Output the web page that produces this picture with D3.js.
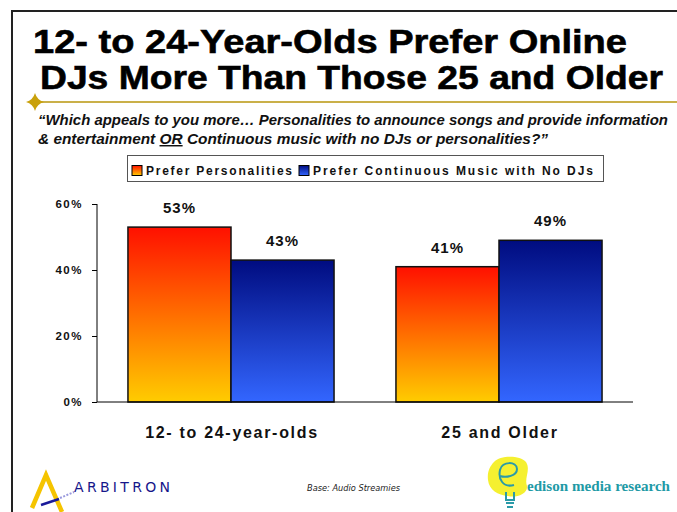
<!DOCTYPE html>
<html>
<head>
<meta charset="utf-8">
<script src="https://cdn.jsdelivr.net/npm/d3@7"></script>
<style>
  html, body { margin: 0; padding: 0; background: #fff; }
  svg { display: block; }
</style>
</head>
<body>
<script>
// Survey results: share preferring DJ personalities vs. continuous music
const categories = ["12- to 24-year-olds", "25 and Older"];
const seriesNames = ["Prefer Personalities", "Prefer Continuous Music with No DJs"];
const preferPersonalities = [53, 41];
const preferContinuous = [43, 49];
const yTicks = [0, 20, 40, 60];
const titleLines = ["12- to 24-Year-Olds Prefer Online", "DJs More Than Those 25 and Older"];

const W = 677, H = 512;
const FONT = "Liberation Sans, Arial, Helvetica, sans-serif";
const svg = d3.select("body").append("svg").attr("width", W).attr("height", H);
const defs = svg.append("defs");

// vertical gradients for the two series
const gradients = [
  { id: "gOrange", top: "#ff1000", bottom: "#ffcc00" },
  { id: "gBlue", top: "#000c80", bottom: "#3366ff" }
];
gradients.forEach(g => {
  const lg = defs.append("linearGradient").attr("id", g.id)
    .attr("x1", 0).attr("y1", 0).attr("x2", 0).attr("y2", 1);
  lg.append("stop").attr("offset", "0%").attr("stop-color", g.top);
  lg.append("stop").attr("offset", "100%").attr("stop-color", g.bottom);
});
const fills = ["url(#gOrange)", "url(#gBlue)"];

// slide frame
svg.append("path")
  .attr("d", `M12,${H} L12,11 L${W},11`)
  .attr("fill", "none").attr("stroke", "#222").attr("stroke-width", 2);

// title
const titleSpec = [
  { x: 33, y: 53, len: 594 },
  { x: 40, y: 89, len: 623 }
];
titleLines.forEach((t, i) => {
  svg.append("text")
    .attr("x", titleSpec[i].x).attr("y", titleSpec[i].y)
    .attr("textLength", titleSpec[i].len).attr("lengthAdjust", "spacingAndGlyphs")
    .attr("font-family", FONT).attr("font-weight", "bold").attr("font-size", 34)
    .attr("stroke", "#000").attr("stroke-width", 0.6)
    .attr("fill", "#000").text(t);
});

// gold rule with star
svg.append("line").attr("x1", 35).attr("x2", W).attr("y1", 102).attr("y2", 102)
  .attr("stroke", "#b8960c").attr("stroke-width", 1.5);
const sx = 35, sy = 102, r = 9, q = 2;
svg.append("path")
  .attr("d", `M${sx},${sy - r} Q${sx + q},${sy - q} ${sx + r},${sy} Q${sx + q},${sy + q} ${sx},${sy + r} Q${sx - q},${sy + q} ${sx - r},${sy} Q${sx - q},${sy - q} ${sx},${sy - r}Z`)
  .attr("fill", "#c9a10c");

// question
const qStyle = s => s.attr("font-family", FONT).attr("font-weight", "bold")
  .attr("font-style", "italic").attr("font-size", 14.5).attr("fill", "#111");
svg.append("text").call(qStyle).attr("x", 38).attr("y", 125)
  .attr("textLength", 630).attr("lengthAdjust", "spacingAndGlyphs")
  .text("\u201CWhich appeals to you more\u2026 Personalities to announce songs and provide information");
const q2 = svg.append("text").call(qStyle).attr("x", 38).attr("y", 144)
  .attr("textLength", 510).attr("lengthAdjust", "spacingAndGlyphs");
q2.append("tspan").text("& entertainment ");
q2.append("tspan").attr("text-decoration", "underline").text("OR");
q2.append("tspan").text(" Continuous music with no DJs or personalities?\u201D");

// legend
const legend = svg.append("g");
legend.append("rect").attr("x", 127.5).attr("y", 155.5).attr("width", 476).attr("height", 26)
  .attr("fill", "#fff").attr("stroke", "#555").attr("stroke-width", 1);
const legendItems = [
  { x: 132, name: seriesNames[0], fill: fills[0], len: 146 },
  { x: 299, name: seriesNames[1], fill: fills[1], len: 280 }
];
legendItems.forEach(it => {
  legend.append("rect").attr("x", it.x).attr("y", 165.5).attr("width", 10).attr("height", 10)
    .attr("fill", it.fill).attr("stroke", "#000").attr("stroke-width", 1);
  legend.append("text").attr("x", it.x + 14).attr("y", 175)
    .attr("textLength", it.len).attr("lengthAdjust", "spacing")
    .attr("font-family", FONT)
    .attr("font-weight", "bold").attr("font-size", 12)
    .attr("fill", "#111").text(it.name);
});

// chart scales
const plot = { left: 97, right: 633, top: 204, bottom: 402 };
const y = d3.scaleLinear().domain([0, 60]).range([plot.bottom, plot.top]);
const x0 = d3.scaleBand().domain(categories).range([plot.left, plot.right])
  .paddingInner(0.231).paddingOuter(0.1155);
const x1 = d3.scaleBand().domain(seriesNames).range([0, x0.bandwidth()]).padding(0);

const values = [preferPersonalities, preferContinuous];
const rows = [];
categories.forEach((c, ci) => {
  seriesNames.forEach((s, si) => rows.push({ cat: c, series: s, si, value: values[si][ci] }));
});

// y axis
const yAxis = svg.append("g").attr("transform", `translate(${plot.left},0)`)
  .call(d3.axisLeft(y).tickValues(yTicks).tickSize(5).tickPadding(9).tickFormat(d => d + "%"));
yAxis.select(".domain").attr("stroke", "#000").attr("d", `M0,${plot.top}V${plot.bottom}`);
yAxis.selectAll(".tick line").attr("stroke", "#000");
yAxis.selectAll(".tick text")
  .attr("font-family", FONT)
  .attr("font-weight", "bold").attr("font-size", 11.5).attr("letter-spacing", 1.5)
  .attr("fill", "#111");

// bars
svg.append("g").selectAll("rect").data(rows).join("rect")
  .attr("x", d => x0(d.cat) + x1(d.series))
  .attr("y", d => y(d.value))
  .attr("width", x1.bandwidth())
  .attr("height", d => y(0) - y(d.value))
  .attr("fill", d => fills[d.si])
  .attr("stroke", "#111").attr("stroke-width", 1.5);

// x axis baseline
svg.append("g").attr("transform", `translate(0,${plot.bottom})`)
  .call(d3.axisBottom(x0).tickSize(0).tickFormat(""))
  .select(".domain").attr("stroke", "#000").attr("d", `M${plot.left},0H${plot.right}`);

// value labels
svg.append("g").selectAll("text").data(rows).join("text")
  .attr("x", d => x0(d.cat) + x1(d.series) + x1.bandwidth() / 2)
  .attr("y", d => y(d.value) - 14)
  .attr("text-anchor", "middle")
  .attr("font-family", FONT)
  .attr("font-weight", "bold").attr("font-size", 15).attr("letter-spacing", 1)
  .attr("fill", "#111").text(d => d.value + "%");

// category labels
svg.append("g").selectAll("text").data(categories).join("text")
  .attr("x", d => x0(d) + x0.bandwidth() / 2 + 1)
  .attr("y", 438)
  .attr("text-anchor", "middle")
  .attr("font-family", FONT)
  .attr("font-weight", "bold").attr("font-size", 16).attr("letter-spacing", 1.7)
  .attr("fill", "#111").text(d => d);

// footer: Arbitron mark
const arb = svg.append("g");
arb.append("path").attr("d", "M32,508 L46,475 L62,512")
  .attr("fill", "none").attr("stroke", "#f5c400").attr("stroke-width", 4.5).attr("stroke-linejoin", "miter");
arb.append("path").attr("d", "M41,505 L59,499").attr("stroke", "#1a1a9a").attr("stroke-width", 2.5);
arb.append("path").attr("d", "M60,498 L74,492").attr("stroke", "#9999dd").attr("stroke-width", 2).attr("stroke-dasharray", "2,1.5");
arb.append("text").attr("x", 74).attr("y", 492)
  .attr("textLength", 96).attr("lengthAdjust", "spacing")
  .attr("font-family", "DejaVu Sans, Verdana, sans-serif")
  .attr("font-size", 14).attr("fill", "#16168a").text("ARBITRON");

// footer: base note
svg.append("text").attr("x", 307).attr("y", 491)
  .attr("textLength", 93).attr("lengthAdjust", "spacingAndGlyphs")
  .attr("font-family", "DejaVu Sans Condensed, Liberation Sans Narrow, sans-serif")
  .attr("font-style", "italic").attr("font-size", 9).attr("fill", "#222")
  .text("Base: Audio Streamies");

// footer: Edison mark
const ed = svg.append("g");
ed.append("path")
  .attr("d", "M494,462 C500,455 520,455 526,462 C531,470 524,478 527,486 C528,494 516,498 508,496 C498,495 489,490 488,480 C487,472 490,466 494,462Z")
  .attr("fill", "#f5f030");
ed.append("path")
  .attr("d", "M500,476 C506,478 517,476 517,469 C517,461 502,461 500,470 C498,479 503,488 514,485 M506,492 L506,500 L514,500 L514,492")
  .attr("fill", "none").attr("stroke", "#2a9aa8").attr("stroke-width", 2);
ed.append("path").attr("d", "M506,503 H514 M507,507 H513")
  .attr("stroke", "#2a9aa8").attr("stroke-width", 2);
ed.append("text").attr("x", 527).attr("y", 491)
  .attr("textLength", 143).attr("lengthAdjust", "spacingAndGlyphs")
  .attr("font-family", "Liberation Serif, Times New Roman, serif")
  .attr("font-weight", "bold").attr("font-size", 15.5).attr("fill", "#1e9aa6")
  .text("edison media research");
</script>
</body>
</html>
